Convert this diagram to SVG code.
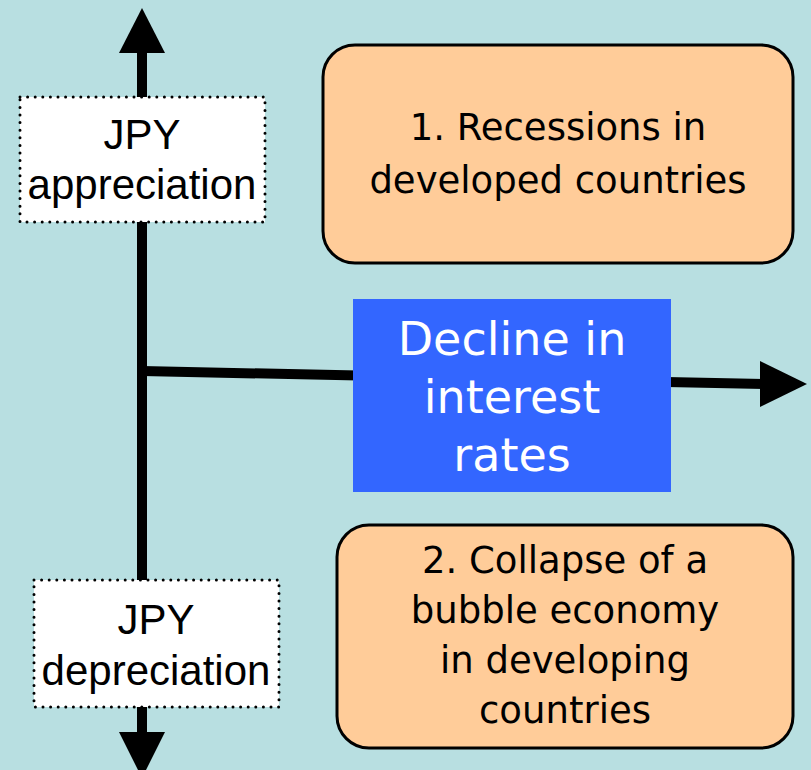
<svg xmlns="http://www.w3.org/2000/svg" width="811" height="770" viewBox="0 0 811 770">
<style>
.jpy{fill:#fff;stroke:#000;stroke-width:3;stroke-dasharray:0 7.6;stroke-linecap:round}
.jt{font-family:"Liberation Sans",Arial,sans-serif;font-size:42px;fill:#000;text-anchor:middle}
.cause{fill:#FFCC99;stroke:#000;stroke-width:3}
.ct{font-family:"DejaVu Sans",Verdana,sans-serif;font-size:37px;fill:#000;text-anchor:middle}
.bt{font-family:"DejaVu Sans",Verdana,sans-serif;font-size:46px;fill:#fff;text-anchor:middle}
.ln{stroke:#000;stroke-width:10;fill:none}
</style>
<rect width="811" height="770" fill="#B8DFE1"/>
<g id="connectors">
<line class="ln" x1="142" y1="50" x2="142" y2="740"/>
<polygon points="142,8 119,53 165,53" fill="#000"/>
<polygon points="142,778 119,732 165,732" fill="#000"/>
<line class="ln" x1="142" y1="371" x2="765" y2="384"/>
<polygon points="807,384 760,361 760,407" fill="#000"/>
</g>
<g id="jpy-appreciation">
<rect class="jpy" x="20" y="97" width="245" height="125"/>
<text class="jt" x="142" y="149">JPY</text>
<text class="jt" x="142" y="199">appreciation</text>
</g>
<g id="jpy-depreciation">
<rect class="jpy" x="34" y="580" width="245" height="127"/>
<text class="jt" x="156" y="634">JPY</text>
<text class="jt" x="156" y="685">depreciation</text>
</g>
<g id="recessions">
<rect class="cause" x="323" y="45" width="470" height="218" rx="32"/>
<text class="ct" x="558" y="140">1. Recessions in</text>
<text class="ct" x="558" y="193">developed countries</text>
</g>
<g id="decline">
<rect x="353" y="299" width="318" height="193" fill="#3366FF"/>
<text class="bt" x="512" y="355">Decline in</text>
<text class="bt" x="512" y="413">interest</text>
<text class="bt" x="512" y="471">rates</text>
</g>
<g id="collapse">
<rect class="cause" x="337" y="525" width="456" height="223" rx="32"/>
<text class="ct" x="565" y="573">2. Collapse of a</text>
<text class="ct" x="565" y="623">bubble economy</text>
<text class="ct" x="565" y="673">in developing</text>
<text class="ct" x="565" y="723">countries</text>
</g>
</svg>
